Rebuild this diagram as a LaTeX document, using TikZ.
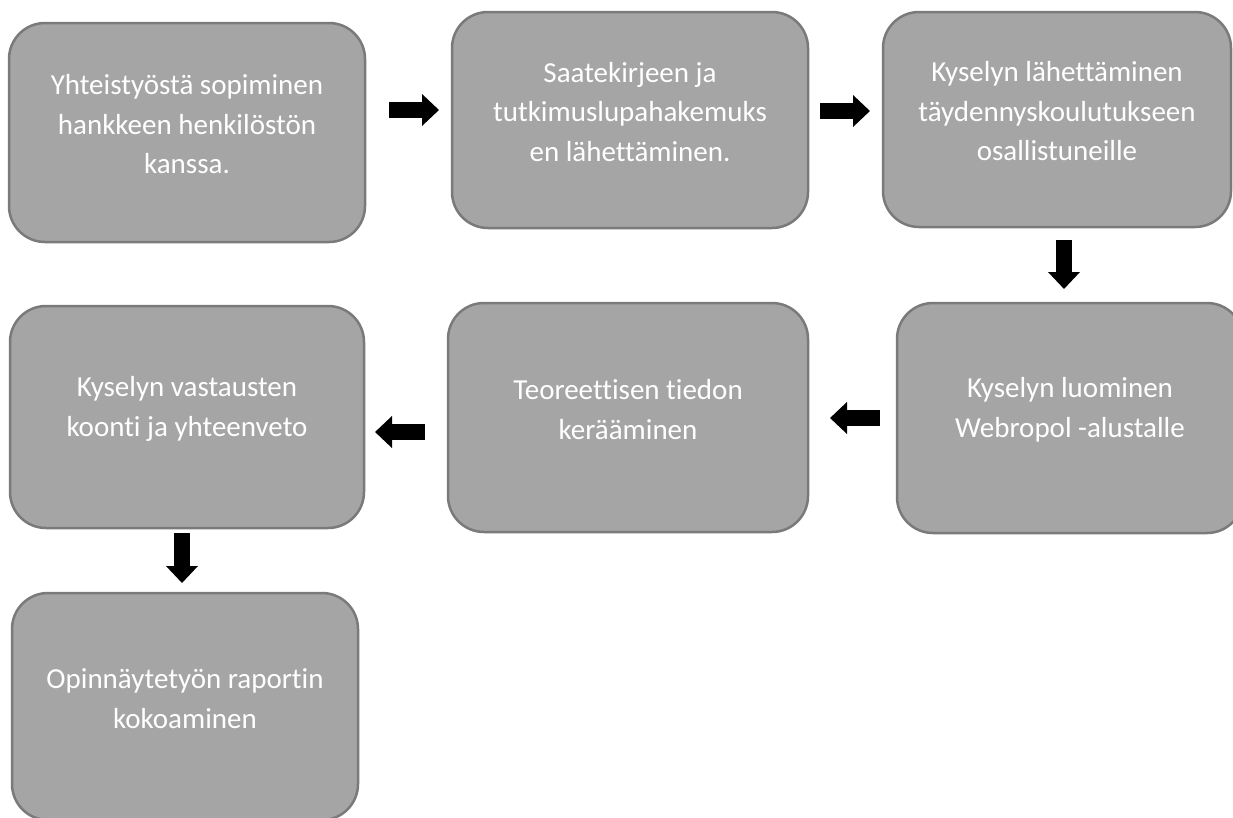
\documentclass[tikz,border=0pt]{standalone}
\usepackage{fontspec}
\setmainfont{Carlito}[Ligatures=NoCommon]
\usetikzlibrary{arrows.meta,calc}
\definecolor{boxfill}{HTML}{A5A5A5}
\definecolor{boxline}{HTML}{7A7A7A}
\begin{document}
\begin{tikzpicture}[x=1pt,y=-1pt,
  box/.style={draw=boxline, fill=boxfill, line width=2.5pt, rounded corners=36pt,
    inner sep=0pt, outer sep=0pt, anchor=north west},
  txt/.style={text=white, align=center, inner sep=0pt, yshift=8pt,
    font=\fontsize{29}{39.5}\selectfont},
  blk/.style={line width=16pt, -{Triangle[width=31pt,length=17pt]}, black}]
\useasboundingbox (0,0) rectangle (1233,817);
\clip (0,0) rectangle (1233,817);
\node[box, minimum width=356pt, minimum height=219pt] (b1) at (9,23) {};
\node[box, minimum width=356pt, minimum height=216pt] (b2) at (452,12) {};
\node[box, minimum width=348pt, minimum height=215pt] (b3) at (883,12) {};
\node[box, minimum width=346pt, minimum height=230pt] (b4) at (897,303) {};
\node[box, minimum width=360pt, minimum height=229pt] (b5) at (448,303) {};
\node[box, minimum width=354pt, minimum height=222pt] (b6) at (10,306) {};
\node[box, minimum width=346pt, minimum height=227pt] (b7) at (12,593) {};
\node[txt] (t1) at (b1.center) {Yhteistyöstä sopiminen\\hankkeen henkilöstön\\kanssa.};
\node[txt] (t2) at (b2.center) {Saatekirjeen ja\\tutkimuslupahakemuks\\en lähettäminen.};
\node[txt] (t3) at (b3.center) {Kyselyn lähettäminen\\täydennyskoulutukseen\\osallistuneille};
\node[txt] (t4) at (b4.center) {Kyselyn luominen\\Webropol -alustalle};
\node[txt] (t5) at (b5.center) {Teoreettisen tiedon\\kerääminen};
\node[txt] (t6) at (b6.center) {Kyselyn vastausten\\koonti ja yhteenveto};
\node[txt] (t7) at (b7.center) {Opinnäytetyön raportin\\kokoaminen};
\draw[blk] ($(b1.east)+(24,-22.5)$) -- ($(b2.west)+(-13,-10)$);
\draw[blk] ($(b2.east)+(12,-9)$) -- ($(b3.west)+(-13,-8.5)$);
\draw[blk] ($(b3.south)+(7,13)$) -- ($(b4.north)+(-6,-14)$);
\draw[blk] ($(b4.west)+(-17,0)$) -- ($(b5.east)+(22,0.5)$);
\draw[blk] ($(b5.west)+(-23,14.5)$) -- ($(b6.east)+(11,15)$);
\draw[blk] ($(b6.south)+(-5,5)$) -- ($(b7.north)+(-3,-10)$);
\end{tikzpicture}
\end{document}
